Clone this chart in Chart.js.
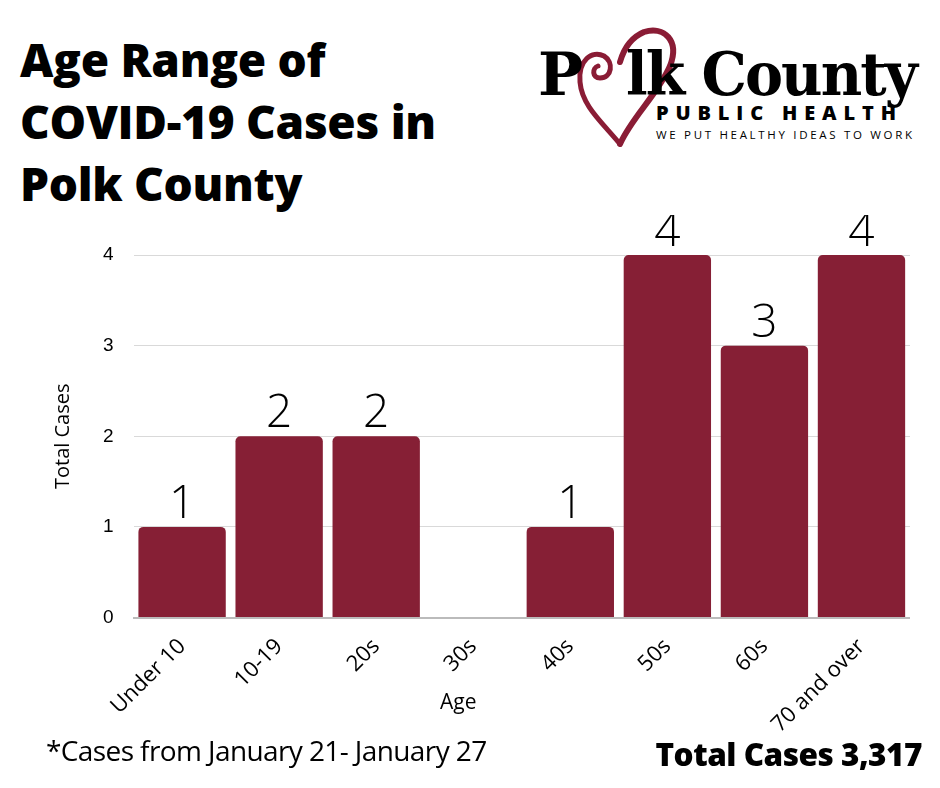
<!DOCTYPE html>
<html>
<head>
<meta charset="utf-8">
<script src="https://cdn.jsdelivr.net/npm/chart.js@4.4.0/dist/chart.umd.min.js"></script>
<style>
  body { margin: 0; background: #fff; width: 940px; height: 788px; position: relative; overflow: hidden; font-family: "Open Sans", sans-serif; }
  #title { position: absolute; left: 20px; top: 28px; font-size: 46px; font-weight: 800; line-height: 62px; color: #000; letter-spacing: -0.3px; }
  #logo { position: absolute; left: 530px; top: 22px; width: 400px; height: 130px; }
  #chartBox { position: absolute; left: 47px; top: 215px; width: 863px; height: 539px; }
  #xTitle { position: absolute; left: 440px; top: 687px; font-size: 21px; color: #000; }
  #note { position: absolute; left: 46px; top: 731px; font-size: 28px; color: #000; letter-spacing: -0.6px; }
  #total { position: absolute; right: 18px; top: 732px; font-size: 31.5px; font-weight: 800; color: #000; letter-spacing: -0.5px; }
</style>
</head>
<body>
<div id="title">Age Range of<br>COVID-19 Cases in<br>Polk County</div>

<svg id="logo" viewBox="0 0 400 130">
  <!-- heart swirl standing in for the "o" -->
  <path d="M90 122 C72 100 52 84 50 60 C48 38 62 28 74 34 C84 40 82 56 70 56 C62 56 62 46 68 44"
        fill="none" stroke="#8a1c35" stroke-width="5" stroke-linecap="round"/>
  <path d="M90 122 C102 95 128 72 140 44 C150 18 134 4 114 10 C102 15 94 26 90 40"
        fill="none" stroke="#8a1c35" stroke-width="6" stroke-linecap="round"/>
  <text x="8" y="73" font-family="DejaVu Serif" font-weight="bold" font-size="60" fill="#000" letter-spacing="-2">P</text>
  <text x="96" y="73" font-family="DejaVu Serif" font-weight="bold" font-size="60" fill="#000" letter-spacing="-2" textLength="290" lengthAdjust="spacingAndGlyphs">lk County</text>
  <text x="126" y="98" font-family="Open Sans" font-weight="800" font-size="20" fill="#000" textLength="240" lengthAdjust="spacing">PUBLIC HEALTH</text>
  <text x="126" y="117" font-family="Open Sans" font-size="11.5" fill="#000" textLength="256" lengthAdjust="spacing">WE PUT HEALTHY IDEAS TO WORK</text>
</svg>

<div id="chartBox"><canvas id="chart"></canvas></div>

<div id="xTitle">Age</div>
<div id="note">*Cases from January 21- January 27</div>
<div id="total">Total Cases 3,317</div>

<script>
const ageGroups = ['Under 10', '10-19', '20s', '30s', '40s', '50s', '60s', '70 and over'];
const caseCounts = [1, 2, 2, 0, 1, 4, 3, 4];
const yTicks = [0, 1, 2, 3, 4];

const barColor = '#861f35';

// draws the count above each bar
const barNumbers = {
  id: 'barNumbers',
  afterDatasetsDraw(chart) {
    const c = chart.ctx;
    const meta = chart.getDatasetMeta(0);
    c.save();
    c.font = '300 46px "Open Sans"';
    c.fillStyle = '#000';
    c.textAlign = 'center';
    c.textBaseline = 'alphabetic';
    meta.data.forEach((bar, i) => {
      const v = caseCounts[i];
      if (!v) return;
      c.fillText(String(v), bar.x, bar.y - 9);
    });
    c.restore();
  }
};

const ctx = document.getElementById('chart');

const myChart = new Chart(ctx, {
  type: 'bar',
  data: {
    labels: ageGroups,
    datasets: [
      {
        data: caseCounts,
        backgroundColor: barColor,
        borderRadius: { topLeft: 5, topRight: 5 },
        borderSkipped: false,
        barPercentage: 0.9,
        categoryPercentage: 1,
      },
    ],
  },
  options: {
    responsive: true,
    maintainAspectRatio: false,
    animation: false,
    layout: { padding: { top: 40, right: 0, left: 0, bottom: 0 } },
    plugins: {
      legend: { display: false },
      tooltip: { enabled: false },
    },
    scales: {
      x: {
        grid: { display: false, drawTicks: false },
        border: { color: '#bbb', width: 2 },
        ticks: {
          color: '#000',
          font: { family: 'Open Sans', size: 22 },
          maxRotation: 45,
          minRotation: 45,
          padding: 16,
        },
      },
      y: {
        min: 0,
        max: 4,
        afterBuildTicks: (axis) => {
          axis.ticks = yTicks.map((v) => ({ value: v }));
        },
        grid: { color: '#d9d9d9', drawTicks: false },
        border: { display: false },
        ticks: {
          color: '#000',
          font: { family: 'Liberation Sans', size: 19 },
          padding: 20,
        },
        title: {
          display: true,
          text: 'Total Cases',
          color: '#000',
          font: { family: 'Open Sans', size: 20 },
          padding: { bottom: 8 },
        },
      },
    },
  },
  plugins: [barNumbers],
});
</script>
</body>
</html>
